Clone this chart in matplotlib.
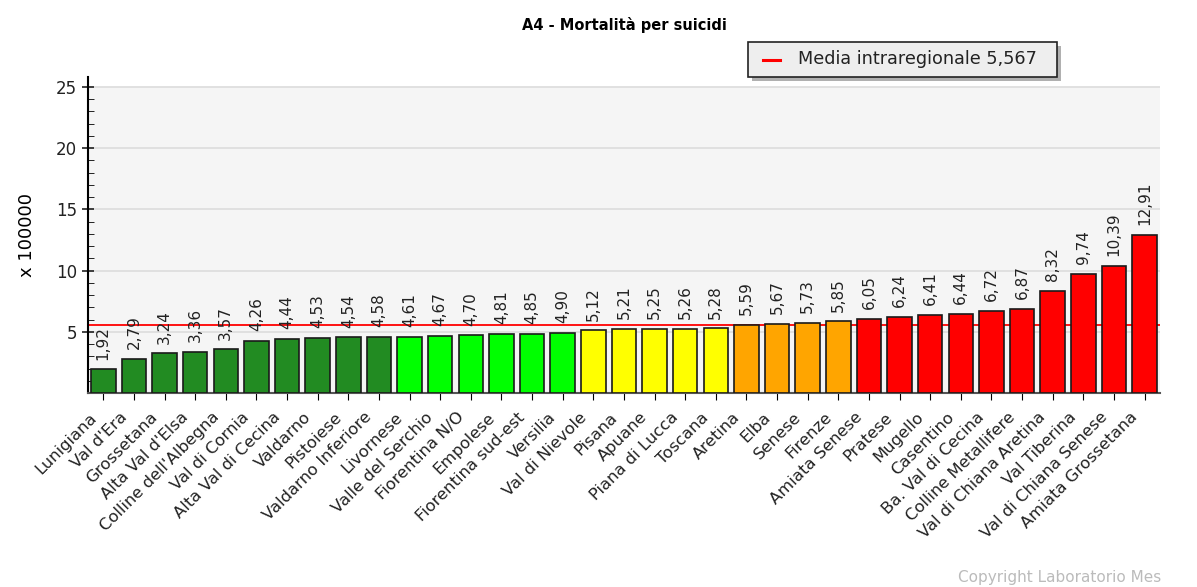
import matplotlib
matplotlib.use("Agg")
import matplotlib.pyplot as plt
import matplotlib.transforms as mtransforms
from matplotlib.lines import Line2D
from matplotlib.patches import Rectangle
from matplotlib.ticker import MultipleLocator

# Data
zones = [
    "Lunigiana", "Val d'Era", "Grossetana", "Alta Val d'Elsa", "Colline dell'Albegna",
    "Val di Cornia", "Alta Val di Cecina", "Valdarno", "Pistoiese", "Valdarno Inferiore",
    "Livornese", "Valle del Serchio", "Fiorentina N/O", "Empolese", "Fiorentina sud-est",
    "Versilia", "Val di Nievole", "Pisana", "Apuane", "Piana di Lucca", "Toscana",
    "Aretina", "Elba", "Senese", "Firenze", "Amiata Senese", "Pratese", "Mugello",
    "Casentino", "Ba. Val di Cecina", "Colline Metallifere", "Val di Chiana Aretina",
    "Val Tiberina", "Val di Chiana Senese", "Amiata Grossetana",
]
values = [
    1.92, 2.79, 3.24, 3.36, 3.57, 4.26, 4.44, 4.53, 4.54, 4.58,
    4.61, 4.67, 4.70, 4.81, 4.85, 4.90,
    5.12, 5.21, 5.25, 5.26, 5.28,
    5.59, 5.67, 5.73, 5.85,
    6.05, 6.24, 6.41, 6.44, 6.72, 6.87, 8.32, 9.74, 10.39, 12.91,
]
# colour class of each bar (number of bars per class)
class_counts = [10, 6, 5, 4, 10]
class_colors = ["#228b22", "#00ff00", "#ffff00", "#ffa500", "#ff0000"]
media = 5.567
media_label = "Media intraregionale 5,567"

bar_colors = []
for n, c in zip(class_counts, class_colors):
    bar_colors += [c] * n

fig = plt.figure(figsize=(11.97, 5.87), dpi=100)
ax = fig.add_axes([0.0735, 0.3305, 0.8955, 0.5382])

x = list(range(len(values)))
ax.axhspan(0, 25, color="#f5f5f5", zorder=0)
for yv in [5, 10, 15, 20, 25]:
    ax.axhline(yv, color="#dcdcdc", lw=1.2, zorder=1)

ax.axhline(media, color="#ff0000", lw=1.3, zorder=2)
ax.bar(x, values, width=0.8, color=bar_colors, edgecolor="#1a1a1a", lw=1.2, zorder=3)

for xi, v in zip(x, values):
    ax.annotate(f"{v:.2f}".replace(".", ","), (xi, v), xytext=(0, 7),
                textcoords="offset points", rotation=90, ha="center", va="bottom",
                fontsize=11, color="#222222")

ax.set_xlim(-0.5, len(values) - 0.5)
ax.set_ylim(0, 25.8)
ax.set_yticks([5, 10, 15, 20, 25])
ax.yaxis.set_minor_locator(MultipleLocator(1))
ax.tick_params(axis="y", which="major", direction="inout", length=9, width=1.2,
               labelsize=12, colors="#222222")
ax.tick_params(axis="y", which="minor", direction="in", length=4)
ax.set_xticks(x)
ax.set_xticklabels(zones, rotation=45, ha="right", fontsize=11.8, color="#222222")
ax.tick_params(axis="x", length=5, pad=7)
shift = mtransforms.ScaledTranslation(-4 / 100, 0, fig.dpi_scale_trans)
for lbl in ax.get_xticklabels():
    lbl.set_transform(lbl.get_transform() + shift)

ax.set_facecolor("white")
for s in ["top", "right"]:
    ax.spines[s].set_visible(False)
ax.spines["left"].set_linewidth(1.5)
ax.spines["bottom"].set_linewidth(1.5)
ax.spines["bottom"].set_color("#555555")

ax.set_ylabel("x 100000", fontsize=13, labelpad=14)

fig.text(0.522, 0.957, "A4 - Mortalità per suicidi", ha="center", va="center",
         fontsize=10.5, fontweight="bold")

# legend box drawn by hand (boxed, with a drop shadow)
W, H = 1197, 587
lx0, lx1, ly0, ly1 = 748, 1057, 42, 77
fig.patches.append(Rectangle(((lx0 + 4) / W, 1 - (ly1 + 4) / H), (lx1 - lx0) / W,
                             (ly1 - ly0) / H, transform=fig.transFigure,
                             facecolor="#b0b0b0", edgecolor="none", zorder=5))
fig.patches.append(Rectangle((lx0 / W, 1 - ly1 / H), (lx1 - lx0) / W, (ly1 - ly0) / H,
                             transform=fig.transFigure, facecolor="#eeeeee",
                             edgecolor="#222222", lw=1.2, zorder=6))
ymid = 1 - (ly0 + ly1) / 2 / H
fig.lines.append(Line2D([763 / W, 780 / W], [ymid, ymid], transform=fig.transFigure,
                        color="#ff0000", lw=2.2, zorder=7))
fig.text(798 / W, ymid, media_label, fontsize=12.7, color="#222222",
         ha="left", va="center", zorder=7)

fig.text(0.80, 0.017, "Copyright Laboratorio Mes", fontsize=11, color="#bbbbbb",
         ha="left", va="center")

fig.savefig("out.png", dpi=100)
